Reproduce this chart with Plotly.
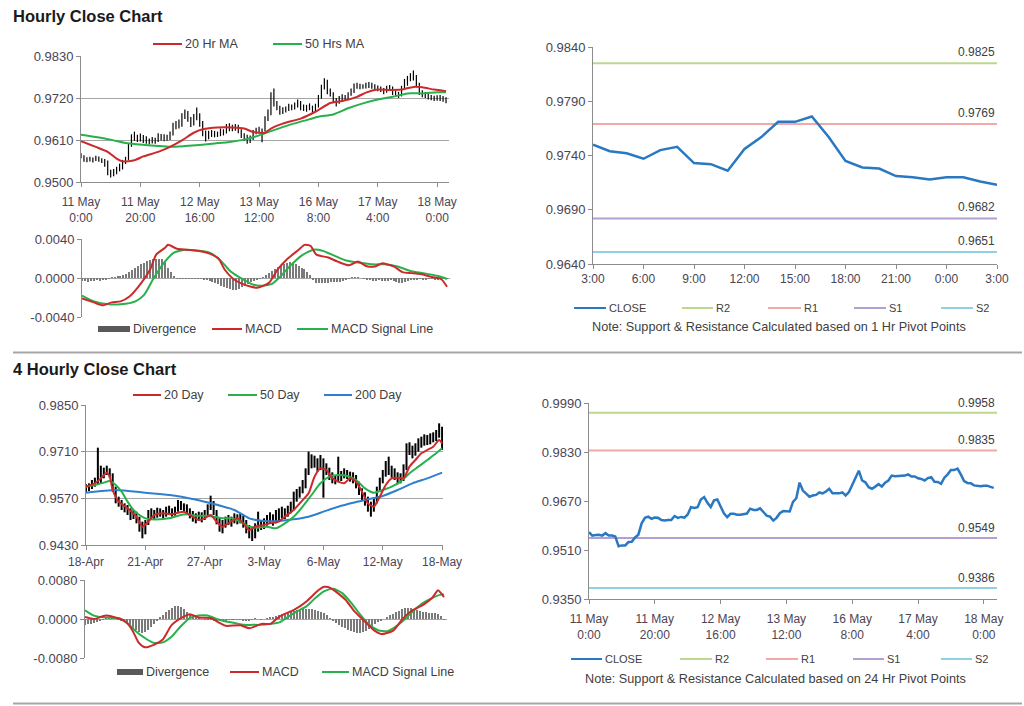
import plotly.graph_objects as go

W, H = 1024, 706
FONT = "Liberation Sans, Arial, sans-serif"
TXT = "#404040"
TICK = "#4b4453"
AX = "#8c8c8c"
GRID = "#a6a6a6"
RED = "#cc2a2a"
GREEN = "#27b04b"
BLUE200 = "#2f7fcf"
CLOSE_BLUE = "#2a78c2"
R2C, R1C, S1C, S2C = "#bcd88e", "#f0a8a8", "#b3a0d2", "#8fd0e2"

# ---------------- hourly data (11 May 0:00 -> 18 May 3:00) ----------------
hourly_ticks = ["11 May<br>0:00", "11 May<br>20:00", "12 May<br>16:00", "13 May<br>12:00",
                "16 May<br>8:00", "17 May<br>4:00", "18 May<br>0:00"]
hourly_close = [
    0.9568, 0.9557, 0.9559, 0.9560, 0.9557, 0.9565, 0.9557, 0.9557, 0.9554, 0.9522,
    0.9525, 0.9525, 0.9536, 0.9537, 0.9551, 0.9560, 0.9597, 0.9615, 0.9619, 0.9612,
    0.9616, 0.9615, 0.9608, 0.9606, 0.9608, 0.9608, 0.9621, 0.9615, 0.9618, 0.9616,
    0.9626, 0.9650, 0.9647, 0.9650, 0.9675, 0.9683, 0.9664, 0.9650, 0.9672, 0.9675,
    0.9652, 0.9630, 0.9617, 0.9628, 0.9628, 0.9625, 0.9625, 0.9628, 0.9629, 0.9645,
    0.9641, 0.9641, 0.9646, 0.9634, 0.9622, 0.9619, 0.9606, 0.9615, 0.9630, 0.9637,
    0.9636, 0.9636, 0.9667, 0.9679, 0.9730, 0.9704, 0.9694, 0.9684, 0.9688, 0.9690,
    0.9698, 0.9695, 0.9701, 0.9710, 0.9695, 0.9695, 0.9695, 0.9698, 0.9688, 0.9699,
    0.9722, 0.9748, 0.9769, 0.9737, 0.9731, 0.9715, 0.9710, 0.9717, 0.9725, 0.9717,
    0.9730, 0.9737, 0.9753, 0.9751, 0.9751, 0.9751, 0.9753, 0.9757, 0.9750,
    0.9750, 0.9744, 0.9742, 0.9737, 0.9745, 0.9748, 0.9733, 0.9732, 0.9726, 0.9746,
    0.9757, 0.9771, 0.9771, 0.9776, 0.9757, 0.9735, 0.9729, 0.9728, 0.9721, 0.9720,
    0.9718, 0.9720, 0.9720, 0.9716, 0.9713]
hourly_high = [
    0.9575, 0.9570, 0.9565, 0.9566, 0.9564, 0.9569, 0.9567, 0.9562, 0.9560, 0.9556,
    0.9532, 0.9534, 0.9540, 0.9548, 0.9558, 0.9566, 0.9602, 0.9625, 0.9632, 0.9624,
    0.9627, 0.9623, 0.9620, 0.9614, 0.9618, 0.9616, 0.9628, 0.9626, 0.9625, 0.9624,
    0.9632, 0.9655, 0.9660, 0.9664, 0.9680, 0.9690, 0.9686, 0.9670, 0.9678, 0.9695,
    0.9680, 0.9660, 0.9635, 0.9634, 0.9636, 0.9634, 0.9632, 0.9640, 0.9638, 0.9652,
    0.9654, 0.9650, 0.9652, 0.9650, 0.9638, 0.9628, 0.9624, 0.9622, 0.9636, 0.9642,
    0.9645, 0.9640, 0.9672, 0.9690, 0.9735, 0.9745, 0.9712, 0.9700, 0.9696, 0.9698,
    0.9705, 0.9703, 0.9708, 0.9716, 0.9712, 0.9703, 0.9702, 0.9706, 0.9700, 0.9705,
    0.9728, 0.9755, 0.9772, 0.9768, 0.9745, 0.9735, 0.9720, 0.9725, 0.9730, 0.9728,
    0.9735, 0.9745, 0.9758, 0.9760, 0.9757, 0.9756, 0.9760, 0.9762, 0.9760,
    0.9756, 0.9753, 0.9750, 0.9746, 0.9752, 0.9754, 0.9750, 0.9740, 0.9736, 0.9752,
    0.9770, 0.9778, 0.9785, 0.9792, 0.9780, 0.9760, 0.9740, 0.9736, 0.9732, 0.9728,
    0.9726, 0.9727, 0.9728, 0.9725, 0.9722]
hourly_low = [
    0.9562, 0.9553, 0.9552, 0.9554, 0.9551, 0.9555, 0.9553, 0.9550, 0.9540, 0.9518,
    0.9512, 0.9515, 0.9520, 0.9528, 0.9533, 0.9547, 0.9557, 0.9592, 0.9608, 0.9605,
    0.9606, 0.9602, 0.9600, 0.9598, 0.9601, 0.9600, 0.9605, 0.9609, 0.9607, 0.9608,
    0.9610, 0.9622, 0.9638, 0.9640, 0.9645, 0.9665, 0.9658, 0.9644, 0.9648, 0.9662,
    0.9645, 0.9620, 0.9606, 0.9612, 0.9618, 0.9617, 0.9618, 0.9620, 0.9622, 0.9627,
    0.9633, 0.9633, 0.9634, 0.9628, 0.9615, 0.9608, 0.9600, 0.9602, 0.9610, 0.9625,
    0.9628, 0.9604, 0.9632, 0.9660, 0.9675, 0.9698, 0.9688, 0.9676, 0.9678, 0.9682,
    0.9686, 0.9688, 0.9690, 0.9695, 0.9688, 0.9686, 0.9684, 0.9688, 0.9680, 0.9683,
    0.9695, 0.9718, 0.9742, 0.9730, 0.9724, 0.9708, 0.9698, 0.9705, 0.9710, 0.9712,
    0.9714, 0.9726, 0.9733, 0.9744, 0.9743, 0.9744, 0.9745, 0.9746, 0.9744,
    0.9741, 0.9738, 0.9736, 0.9730, 0.9734, 0.9739, 0.9728, 0.9726, 0.9720, 0.9724,
    0.9744, 0.9752, 0.9764, 0.9766, 0.9750, 0.9728, 0.9722, 0.9720, 0.9716, 0.9714,
    0.9712, 0.9713, 0.9712, 0.9710, 0.9706]
ma20_hr_idx = [0, 5, 9, 12, 14, 18, 21, 26, 30, 34, 38, 41, 46, 51, 55, 58, 62, 64, 68, 74,
               79, 84, 88, 93, 96, 100, 104, 108, 112, 115, 119, 123]
ma20_hr = [0.9607, 0.9592, 0.9579, 0.9561, 0.9554, 0.9557, 0.9567, 0.9579, 0.9592, 0.9609,
           0.9629, 0.9638, 0.9643, 0.9643, 0.9640, 0.9631, 0.9629, 0.9640, 0.9653, 0.9666,
           0.9684, 0.9707, 0.9712, 0.9723, 0.9734, 0.9742, 0.9741, 0.9742, 0.9749, 0.9748,
           0.9742, 0.9738]
ma50_hr_idx = [0, 5, 10, 15, 20, 25, 30, 35, 40, 45, 50, 55, 60, 65, 70, 75, 80, 85, 90, 95,
               100, 105, 110, 115, 120, 123]
ma50_hr = [0.9624, 0.9618, 0.9611, 0.9602, 0.9598, 0.9595, 0.9592, 0.9594, 0.9597, 0.9601,
           0.9605, 0.9611, 0.9622, 0.9636, 0.9649, 0.9660, 0.9671, 0.9677, 0.9693, 0.9706,
           0.9716, 0.9723, 0.9732, 0.9732, 0.9735, 0.9735]
macd_hr_idx = [0, 4, 7, 10, 13, 16, 20, 23, 25, 28, 29, 32, 35, 39, 43, 46, 48, 51, 54, 57,
               59, 63, 66, 69, 73, 75, 77, 79, 83, 86, 90, 93, 96, 99, 101, 105, 108, 111, 114, 118,
               121, 123]
macd_hr = [-0.0021, -0.0025, -0.0028, -0.0025, -0.0024, -0.0019, -0.0005, 0.0009, 0.0024, 0.0031,
           0.0034, 0.0030, 0.0029, 0.0028, 0.0025, 0.0020, 0.0009, -0.0001, -0.0006, -0.0009,
           -0.0010, -0.0005, 0.0009, 0.0019, 0.0029, 0.0034, 0.0033, 0.0024, 0.0021, 0.0017,
           0.0013, 0.0017, 0.0012, 0.0012, 0.0015, 0.0012, 0.0006, 0.0005, 0.0004, 0.0001,
           -0.0001, -0.0009]
signal_hr_idx = [0, 4, 9, 13, 18, 21, 24, 28, 31, 35, 39, 43, 47, 50, 54, 57, 60, 64, 67, 70,
                 74, 78, 81, 85, 89, 93, 98, 102, 106, 111, 115, 120, 123]
signal_hr = [-0.0018, -0.0024, -0.0027, -0.0027, -0.0024, -0.0017, -0.0001, 0.0017, 0.0026, 0.0029,
             0.0028, 0.0026, 0.0017, 0.0007, -0.0001, -0.0006, -0.0008, -0.0006, 0.0002, 0.0012,
             0.0023, 0.0029, 0.0028, 0.0023, 0.0018, 0.0016, 0.0014, 0.0014, 0.0012, 0.0007,
             0.0005, 0.0002, -0.0001]
divergence_hr = [
    -0.0003, -0.0003, -0.0004, -0.0003, -0.0003, -0.0002, -0.0003, -0.0002, -0.0002, -0.0001,
    0.0001, 0.0001, 0.0002, 0.0002, 0.0003, 0.0004, 0.0006, 0.0008, 0.0010, 0.0012,
    0.0014, 0.0015, 0.0017, 0.0018, 0.0019, 0.0020, 0.0020, 0.0019, 0.0016, 0.0010,
    0.0006, 0.0002, -0.0001, -0.0001, -0.0001, -0.0001, -0.0001, -0.0001, -0.0001, -0.0001,
    -0.0001, -0.0002, -0.0002, -0.0003, -0.0004, -0.0005, -0.0006, -0.0008, -0.0009, -0.0010,
    -0.0011, -0.0012, -0.0012, -0.0011, -0.0009, -0.0008, -0.0006, -0.0004, -0.0003, -0.0002,
    -0.0001, 0.0001, 0.0003, 0.0005, 0.0007, 0.0009, 0.0011, 0.0012, 0.0014, 0.0015,
    0.0016, 0.0015, 0.0014, 0.0012, 0.0010, 0.0009, 0.0006, 0.0003, -0.0002, -0.0005,
    -0.0005, -0.0005, -0.0005, -0.0005, -0.0004, -0.0004, -0.0004, -0.0004, -0.0003, -0.0002,
    -0.0001, 0.0001, 0.0001, 0.0001, 0.0000, -0.0001, -0.0002, -0.0002, -0.0003, -0.0003,
    -0.0002, -0.0003, -0.0003, -0.0003, -0.0002, -0.0003, -0.0004, -0.0005, -0.0005, -0.0004,
    -0.0003, -0.0002, -0.0002, -0.0002, -0.0001, -0.0002, -0.0002, -0.0001, -0.0001, -0.0002,
    -0.0002, -0.0002, -0.0001, -0.0001]

# last 24 hours (17 May 3:00 -> 18 May 3:00)
day_ticks = ["3:00", "6:00", "9:00", "12:00", "15:00", "18:00", "21:00", "0:00", "3:00"]
pivots_1hr = {"R2": 0.9825, "R1": 0.9769, "S1": 0.9682, "S2": 0.9651}
pivots_24hr = {"R2": 0.9958, "R1": 0.9835, "S1": 0.9549, "S2": 0.9386}

# ---------------- 4 hourly data (18 Apr -> 18 May) ----------------
h4_ticks = ["18-Apr", "21-Apr", "27-Apr", "3-May", "6-May", "12-May", "18-May"]
h4_close = [
    0.9600, 0.9605, 0.9612, 0.9620, 0.9625, 0.9645, 0.9650, 0.9655, 0.9640, 0.9600,
    0.9565, 0.9555, 0.9545, 0.9540, 0.9530, 0.9525, 0.9520, 0.9510, 0.9495, 0.9480,
    0.9495, 0.9520, 0.9525, 0.9518, 0.9530, 0.9525, 0.9520, 0.9530, 0.9535, 0.9525,
    0.9535, 0.9550, 0.9545, 0.9540, 0.9535, 0.9525, 0.9515, 0.9510, 0.9520, 0.9510,
    0.9525, 0.9540, 0.9560, 0.9530, 0.9505, 0.9495, 0.9490, 0.9500, 0.9505, 0.9500,
    0.9515, 0.9505, 0.9510, 0.9500, 0.9480, 0.9470, 0.9465, 0.9475, 0.9485, 0.9490,
    0.9495, 0.9505, 0.9510, 0.9500, 0.9520, 0.9525, 0.9530, 0.9520, 0.9535, 0.9540,
    0.9575, 0.9585, 0.9590, 0.9605, 0.9645, 0.9675, 0.9685, 0.9680, 0.9665, 0.9670,
    0.9665, 0.9650, 0.9640, 0.9630, 0.9625, 0.9630, 0.9635, 0.9645, 0.9640, 0.9635,
    0.9630, 0.9615, 0.9595, 0.9580, 0.9570, 0.9550, 0.9535, 0.9560, 0.9595, 0.9620,
    0.9640, 0.9665, 0.9655, 0.9650, 0.9640, 0.9625, 0.9630, 0.9660, 0.9725, 0.9715,
    0.9705, 0.9720, 0.9735, 0.9740, 0.9750, 0.9745, 0.9748, 0.9755, 0.9760, 0.9780,
    0.9725]
h4_high = [
    0.9612, 0.9615, 0.9625, 0.9632, 0.9722, 0.9668, 0.9662, 0.9668, 0.9660, 0.9645,
    0.9605, 0.9575, 0.9565, 0.9555, 0.9550, 0.9540, 0.9535, 0.9530, 0.9515, 0.9500,
    0.9505, 0.9535, 0.9540, 0.9535, 0.9542, 0.9540, 0.9535, 0.9545, 0.9548, 0.9540,
    0.9545, 0.9565, 0.9562, 0.9555, 0.9552, 0.9540, 0.9532, 0.9525, 0.9530, 0.9528,
    0.9535, 0.9552, 0.9578, 0.9562, 0.9535, 0.9512, 0.9505, 0.9515, 0.9520, 0.9515,
    0.9525, 0.9522, 0.9525, 0.9518, 0.9505, 0.9490, 0.9485, 0.9495, 0.9530, 0.9505,
    0.9510, 0.9520, 0.9528, 0.9522, 0.9535, 0.9540, 0.9545, 0.9540, 0.9548, 0.9560,
    0.9590, 0.9598, 0.9605, 0.9625, 0.9660, 0.9710, 0.9702, 0.9698, 0.9690, 0.9700,
    0.9690, 0.9675, 0.9662, 0.9648, 0.9640, 0.9695, 0.9652, 0.9660, 0.9655, 0.9650,
    0.9648, 0.9640, 0.9620, 0.9600, 0.9588, 0.9575, 0.9560, 0.9572, 0.9605, 0.9632,
    0.9655, 0.9682, 0.9695, 0.9668, 0.9660, 0.9648, 0.9645, 0.9672, 0.9735, 0.9738,
    0.9728, 0.9735, 0.9750, 0.9755, 0.9762, 0.9760, 0.9765, 0.9768, 0.9775, 0.9795,
    0.9785]
h4_low = [
    0.9590, 0.9592, 0.9598, 0.9605, 0.9612, 0.9615, 0.9630, 0.9640, 0.9632, 0.9590,
    0.9555, 0.9545, 0.9535, 0.9528, 0.9520, 0.9505, 0.9508, 0.9495, 0.9470, 0.9450,
    0.9462, 0.9490, 0.9510, 0.9508, 0.9512, 0.9515, 0.9508, 0.9515, 0.9520, 0.9515,
    0.9518, 0.9530, 0.9535, 0.9528, 0.9522, 0.9510, 0.9500, 0.9495, 0.9502, 0.9498,
    0.9505, 0.9520, 0.9535, 0.9520, 0.9492, 0.9470, 0.9465, 0.9482, 0.9490, 0.9485,
    0.9495, 0.9492, 0.9495, 0.9482, 0.9465, 0.9450, 0.9442, 0.9450, 0.9470, 0.9475,
    0.9478, 0.9488, 0.9495, 0.9488, 0.9495, 0.9505, 0.9510, 0.9508, 0.9515, 0.9525,
    0.9535, 0.9560, 0.9572, 0.9585, 0.9600, 0.9640, 0.9660, 0.9662, 0.9650, 0.9655,
    0.9572, 0.9640, 0.9625, 0.9615, 0.9612, 0.9618, 0.9622, 0.9630, 0.9628, 0.9620,
    0.9615, 0.9600, 0.9580, 0.9562, 0.9548, 0.9530, 0.9515, 0.9530, 0.9555, 0.9590,
    0.9615, 0.9635, 0.9640, 0.9632, 0.9625, 0.9612, 0.9615, 0.9622, 0.9655, 0.9700,
    0.9690, 0.9698, 0.9710, 0.9722, 0.9728, 0.9730, 0.9732, 0.9738, 0.9742, 0.9752,
    0.9715]
ma20_4h_idx = [0, 3, 5, 7, 8, 9, 11, 14, 17, 19, 21, 23, 26, 29, 31, 33, 35, 38, 40, 42,
               44, 46, 48, 51, 53, 55, 57, 60, 62, 65, 67, 70, 72, 75, 77, 79, 81, 83, 85, 87,
               89, 91, 93, 95, 97, 99, 101, 103, 105, 107, 109, 111, 113, 115, 117, 119, 120]
ma20_4h = [0.9605, 0.9615, 0.9630, 0.9647, 0.9635, 0.9595, 0.9560, 0.9540, 0.9515, 0.9485,
           0.9500, 0.9520, 0.9525, 0.9522, 0.9527, 0.9530, 0.9520, 0.9505, 0.9510, 0.9520,
           0.9500, 0.9485, 0.9495, 0.9510, 0.9495, 0.9475, 0.9485, 0.9490, 0.9495, 0.9500,
           0.9515, 0.9535, 0.9555, 0.9585, 0.9635, 0.9660, 0.9655, 0.9630, 0.9620, 0.9615,
           0.9630, 0.9620, 0.9590, 0.9555, 0.9545, 0.9575, 0.9610, 0.9630, 0.9632, 0.9630,
           0.9665, 0.9685, 0.9705, 0.9715, 0.9725, 0.9745, 0.9735]
ma50_4h_idx = [0, 3, 6, 8, 10, 12, 14, 16, 18, 20, 22, 25, 28, 31, 34, 37, 40, 43, 46, 49,
               52, 55, 58, 61, 64, 67, 70, 73, 76, 79, 82, 85, 88, 91, 94, 97, 100, 103, 106, 109,
               112, 115, 118, 120]
ma50_4h = [0.9605, 0.9610, 0.9617, 0.9622, 0.9610, 0.9590, 0.9560, 0.9535, 0.9520, 0.9510,
           0.9507, 0.9507, 0.9510, 0.9518, 0.9522, 0.9518, 0.9518, 0.9515, 0.9510, 0.9510,
           0.9500, 0.9485, 0.9482, 0.9485, 0.9480, 0.9495, 0.9515, 0.9545, 0.9580, 0.9615,
           0.9635, 0.9640, 0.9637, 0.9625, 0.9600, 0.9587, 0.9595, 0.9605, 0.9620, 0.9645,
           0.9665, 0.9685, 0.9705, 0.9720]
ma200_4h_idx = [0, 10, 20, 30, 40, 50, 55, 60, 65, 70, 75, 80, 85, 90, 95, 100, 105, 110, 115, 120]
ma200_4h = [0.9587, 0.9595, 0.9587, 0.9578, 0.9560, 0.9535, 0.9510, 0.9502, 0.9502, 0.9507,
            0.9515, 0.9530, 0.9545, 0.9557, 0.9567, 0.9577, 0.9595, 0.9615, 0.9630, 0.9647]
macd_4h_idx = [0, 3, 7, 12, 14, 16, 18, 20, 23, 26, 29, 33, 35, 38, 42, 45, 47, 52, 55, 59,
               62, 65, 70, 74, 78, 80, 82, 87, 90, 94, 97, 99, 103, 106, 109, 113, 116, 118, 119, 120]
macd_4h = [0.0004, 0.0000, 0.0007, 0.0000, -0.0008, -0.0025, -0.0049, -0.0058, -0.0053, -0.0042,
           -0.0012, 0.0005, 0.0010, 0.0003, 0.0002, -0.0008, -0.0014, -0.0013, -0.0019, -0.0010,
           -0.0010, 0.0005, 0.0019, 0.0036, 0.0059, 0.0066, 0.0064, 0.0040, 0.0016, -0.0008,
           -0.0025, -0.0031, -0.0024, -0.0001, 0.0016, 0.0029, 0.0043, 0.0059, 0.0053, 0.0045]
signal_4h_idx = [0, 3, 7, 11, 14, 17, 20, 23, 26, 29, 32, 35, 38, 41, 44, 47, 50, 53, 56, 59,
                 62, 65, 68, 71, 74, 77, 80, 83, 86, 89, 92, 95, 98, 101, 104, 107, 110, 113, 116, 119,
                 120]
signal_4h = [0.0018, 0.0007, 0.0003, 0.0002, -0.0008, -0.0025, -0.0039, -0.0049, -0.0048, -0.0036,
             -0.0015, 0.0002, 0.0007, 0.0007, 0.0000, -0.0005, -0.0008, -0.0012, -0.0012, -0.0012,
             -0.0010, -0.0007, 0.0005, 0.0016, 0.0026, 0.0043, 0.0057, 0.0062, 0.0053, 0.0033,
             0.0009, -0.0012, -0.0023, -0.0025, -0.0015, 0.0000, 0.0018, 0.0033, 0.0043, 0.0050,
             0.0050]
divergence_4h = [
    -0.0012, -0.0011, -0.0010, -0.0008, -0.0006, -0.0004, -0.0002, 0.0001, 0.0001, 0.0001,
    0.0000, -0.0001, -0.0003, -0.0006, -0.0009, -0.0013, -0.0018, -0.0023, -0.0026, -0.0028,
    -0.0027, -0.0022, -0.0016, -0.0010, -0.0004, 0.0003, 0.0008, 0.0014, 0.0019, 0.0023,
    0.0026, 0.0027, 0.0025, 0.0020, 0.0015, 0.0010, 0.0006, 0.0003, 0.0001, 0.0000,
    -0.0001, -0.0002, -0.0002, -0.0003, -0.0003, -0.0004, -0.0003, -0.0003, -0.0002, -0.0002,
    -0.0001, -0.0002, -0.0002, -0.0003, -0.0004, -0.0003, -0.0001, 0.0001, 0.0000, -0.0001,
    0.0000, 0.0002, 0.0003, 0.0005, 0.0007, 0.0009, 0.0011, 0.0013, 0.0015, 0.0016,
    0.0017, 0.0018, 0.0019, 0.0020, 0.0020, 0.0021, 0.0020, 0.0019, 0.0017, 0.0015,
    0.0012, 0.0008, 0.0002, -0.0004, -0.0009, -0.0013, -0.0016, -0.0019, -0.0022, -0.0025,
    -0.0027, -0.0028, -0.0028, -0.0027, -0.0024, -0.0020, -0.0016, -0.0011, -0.0007, -0.0004,
    0.0000, 0.0004, 0.0008, 0.0011, 0.0014, 0.0017, 0.0020, 0.0022, 0.0023, 0.0023,
    0.0021, 0.0018, 0.0016, 0.0015, 0.0014, 0.0013, 0.0012, 0.0012, 0.0011, 0.0006,
    -0.0002]

# ---------------- helpers ----------------
def hl_segments(xs, lows, highs):
    X, Y = [], []
    for x, lo, hi in zip(xs, lows, highs):
        X += [x, x, None]
        Y += [lo, hi, None]
    return X, Y

def dom_x(a, b):
    return [a / W, b / W]

def dom_y(top, bottom):
    return [1 - bottom / H, 1 - top / H]

fig = go.Figure()

n_hr = len(hourly_close)
n_4h = len(h4_close)
hr_idx = list(range(n_hr))
h4_idx = list(range(n_4h))

# --- panel 1: hourly bars + MAs
hx, hy = hl_segments(hr_idx, hourly_low, hourly_high)
fig.add_trace(go.Scatter(x=hx, y=hy, mode="lines", line=dict(color="black", width=1.2),
                         xaxis="x", yaxis="y", hoverinfo="skip"))
fig.add_trace(go.Scatter(x=ma50_hr_idx, y=ma50_hr, mode="lines", line=dict(color=GREEN, width=2, shape="spline", smoothing=0.6),
                         xaxis="x", yaxis="y", name="50 Hrs MA"))
fig.add_trace(go.Scatter(x=ma20_hr_idx, y=ma20_hr, mode="lines", line=dict(color=RED, width=2, shape="spline", smoothing=0.6),
                         xaxis="x", yaxis="y", name="20 Hr MA"))

# --- panel 2: hourly MACD
fig.add_trace(go.Bar(x=hr_idx, y=divergence_hr, width=0.4, marker=dict(color="#7a7a7a", line=dict(width=0)),
                     xaxis="x2", yaxis="y2", name="Divergence"))
fig.add_trace(go.Scatter(x=signal_hr_idx, y=signal_hr, mode="lines", line=dict(color=GREEN, width=2, shape="spline", smoothing=0.6),
                         xaxis="x2", yaxis="y2", name="MACD Signal Line"))
fig.add_trace(go.Scatter(x=macd_hr_idx, y=macd_hr, mode="lines", line=dict(color=RED, width=2, shape="spline", smoothing=0.6),
                         xaxis="x2", yaxis="y2", name="MACD"))

# --- panel 3: last 24h close with 1 Hr pivots
day_close = hourly_close[n_hr - 25:]
day_x = list(range(25))
for key, col in (("R2", R2C), ("R1", R1C), ("S1", S1C), ("S2", S2C)):
    v = pivots_1hr[key]
    fig.add_trace(go.Scatter(x=[0, 24], y=[v, v], mode="lines", line=dict(color=col, width=2),
                             xaxis="x3", yaxis="y3", name=key))
fig.add_trace(go.Scatter(x=day_x, y=day_close, mode="lines", line=dict(color=CLOSE_BLUE, width=2.5),
                         xaxis="x3", yaxis="y3", name="CLOSE"))

# --- panel 4: 4-hourly bars + MAs
fx, fy = hl_segments(h4_idx, h4_low, h4_high)
fig.add_trace(go.Scatter(x=fx, y=fy, mode="lines", line=dict(color="black", width=2),
                         xaxis="x4", yaxis="y4", hoverinfo="skip"))
fig.add_trace(go.Scatter(x=ma200_4h_idx, y=ma200_4h, mode="lines", line=dict(color=BLUE200, width=2, shape="spline", smoothing=0.6),
                         xaxis="x4", yaxis="y4", name="200 Day"))
fig.add_trace(go.Scatter(x=ma50_4h_idx, y=ma50_4h, mode="lines", line=dict(color=GREEN, width=2, shape="spline", smoothing=0.6),
                         xaxis="x4", yaxis="y4", name="50 Day"))
fig.add_trace(go.Scatter(x=ma20_4h_idx, y=ma20_4h, mode="lines", line=dict(color=RED, width=2, shape="spline", smoothing=0.6),
                         xaxis="x4", yaxis="y4", name="20 Day"))

# --- panel 5: 4-hourly MACD
fig.add_trace(go.Bar(x=h4_idx, y=divergence_4h, width=0.4, marker=dict(color="#7a7a7a", line=dict(width=0)),
                     xaxis="x5", yaxis="y5", name="Divergence"))
fig.add_trace(go.Scatter(x=signal_4h_idx, y=signal_4h, mode="lines", line=dict(color=GREEN, width=2, shape="spline", smoothing=0.6),
                         xaxis="x5", yaxis="y5", name="MACD Signal Line"))
fig.add_trace(go.Scatter(x=macd_4h_idx, y=macd_4h, mode="lines", line=dict(color=RED, width=2, shape="spline", smoothing=0.6),
                         xaxis="x5", yaxis="y5", name="MACD"))

# --- panel 6: hourly close with 24 Hr pivots
X6_END = 124
for key, col in (("R2", R2C), ("R1", R1C), ("S1", S1C), ("S2", S2C)):
    v = pivots_24hr[key]
    fig.add_trace(go.Scatter(x=[0, X6_END], y=[v, v], mode="lines", line=dict(color=col, width=2),
                             xaxis="x6", yaxis="y6", name=key))
fig.add_trace(go.Scatter(x=hr_idx, y=hourly_close, mode="lines", line=dict(color=CLOSE_BLUE, width=2.5),
                         xaxis="x6", yaxis="y6", name="CLOSE"))

# ---------------- axes ----------------
xtickfont = dict(family=FONT, size=12, color=TICK)
ytickfont = dict(family=FONT, size=13, color=TICK)
EPS = 1e-7

def xaxis(domain, rng, anchor, tickvals=None, ticktext=None, labels=True, standoff=0):
    d = dict(domain=domain, range=rng, anchor=anchor, showgrid=False, zeroline=False,
             fixedrange=True, tickfont=xtickfont, automargin=False)
    if labels:
        d.update(tickmode="array", tickvals=tickvals, ticktext=ticktext, ticks="outside",
                 ticklen=4, tickcolor=AX, showline=True, linecolor=AX, linewidth=1,
                 ticklabelstandoff=standoff)
    else:
        d.update(showticklabels=False, ticks="", showline=False)
    return d

def yaxis(domain, rng, anchor, tickvals, ticktext, grid):
    return dict(domain=domain, range=[rng[0] - EPS, rng[1] + EPS], anchor=anchor,
                tickmode="array", tickvals=tickvals, ticktext=ticktext,
                ticks="outside", ticklen=4, tickcolor=AX, showline=True, linecolor=AX,
                linewidth=1, showgrid=grid, gridcolor=GRID, gridwidth=1, zeroline=False,
                fixedrange=True, tickfont=ytickfont, automargin=False)

hr_tickvals = [0, 20, 40, 60, 80, 100, 120]

fig.update_layout(
    xaxis=xaxis(dom_x(81, 449), [0, 124], "y", hr_tickvals, hourly_ticks, standoff=5),
    yaxis=yaxis(dom_y(56, 182), [0.9500, 0.9830], "x",
                [0.9500, 0.9610, 0.9720, 0.9830], ["0.9500", "0.9610", "0.9720", "0.9830"], True),
    xaxis2=xaxis(dom_x(82, 450), [0, 124], "y2", labels=False),
    yaxis2=yaxis(dom_y(239, 317), [-0.004, 0.004], "x2",
                 [-0.004, 0.0, 0.004], ["-0.0040", "0.0000", "0.0040"], True),
    xaxis3=xaxis(dom_x(593, 997), [0, 24], "y3", list(range(0, 25, 3)), day_ticks),
    yaxis3=yaxis(dom_y(47, 264), [0.9640, 0.9840], "x3",
                 [0.9640, 0.9690, 0.9740, 0.9790, 0.9840],
                 ["0.9640", "0.9690", "0.9740", "0.9790", "0.9840"], False),
    xaxis4=xaxis(dom_x(86, 443), [0, 120.3], "y4", hr_tickvals, h4_ticks, standoff=2),
    yaxis4=yaxis(dom_y(405, 545), [0.9430, 0.9850], "x4",
                 [0.9430, 0.9570, 0.9710, 0.9850], ["0.9430", "0.9570", "0.9710", "0.9850"], True),
    xaxis5=xaxis(dom_x(85, 447), [0, 121], "y5", labels=False),
    yaxis5=yaxis(dom_y(580, 658), [-0.008, 0.008], "x5",
                 [-0.008, 0.0, 0.008], ["-0.0080", "0.0000", "0.0080"], True),
    xaxis6=xaxis(dom_x(589, 997), [0, X6_END], "y6", hr_tickvals, hourly_ticks, standoff=5),
    yaxis6=yaxis(dom_y(403, 599), [0.9350, 0.9990], "x6",
                 [0.9350, 0.9510, 0.9670, 0.9830, 0.9990],
                 ["0.9350", "0.9510", "0.9670", "0.9830", "0.9990"], False),
)

# ---------------- pivot labels ----------------
for key in ("R2", "R1", "S1", "S2"):
    v = pivots_1hr[key]
    fig.add_annotation(x=24, y=v, xref="x3", yref="y3", text=f"{v:.4f}", showarrow=False,
                       xanchor="right", yanchor="bottom", yshift=2,
                       font=dict(family=FONT, size=12, color=TXT))
    v = pivots_24hr[key]
    fig.add_annotation(x=X6_END, y=v, xref="x6", yref="y6", text=f"{v:.4f}", showarrow=False,
                       xanchor="right", yanchor="bottom", yshift=1,
                       font=dict(family=FONT, size=12, color=TXT))

# ---------------- decorations: titles, separators, legends ----------------
def ptext(x, y, text, size=12.5, color=TXT, bold=False, anchor="left"):
    fig.add_annotation(xref="paper", yref="paper", x=x / W, y=1 - y / H,
                       text=f"<b>{text}</b>" if bold else text, showarrow=False,
                       xanchor=anchor, yanchor="middle",
                       font=dict(family=FONT, size=size, color=color))

def pline(x0, x1, y, color, width=2):
    fig.add_shape(type="line", xref="paper", yref="paper", x0=x0 / W, x1=x1 / W,
                  y0=1 - y / H, y1=1 - y / H, line=dict(color=color, width=width))

def prect(x0, x1, y, h, color):
    fig.add_shape(type="rect", xref="paper", yref="paper", x0=x0 / W, x1=x1 / W,
                  y0=1 - (y + h / 2) / H, y1=1 - (y - h / 2) / H,
                  line=dict(width=0), fillcolor=color)

ptext(11, 16, "Hourly Close Chart", size=16.5, color="#1a1a1a", bold=True)
ptext(11, 369, "4 Hourly Close Chart", size=16.5, color="#1a1a1a", bold=True)
pline(13, 1022, 352.5, "#a6a6a6", 2)
pline(13, 1022, 703.5, "#a6a6a6", 2)

# top-left legend
pline(153, 182, 44, RED); ptext(183, 44, "20 Hr MA")
pline(273, 302, 44, GREEN); ptext(303, 44, "50 Hrs MA")
# top-left MACD legend
prect(98, 130, 329, 6, "#595959"); ptext(131, 329, "Divergence")
pline(212, 242, 329, RED); ptext(243, 329, "MACD")
pline(297, 328, 329, GREEN); ptext(329, 329, "MACD Signal Line")
# top-right legend + note
pline(574, 606, 308, CLOSE_BLUE); ptext(607, 308, "CLOSE", size=11)
pline(682, 713, 308, R2C); ptext(714, 308, "R2", size=11)
pline(768, 801, 308, R1C); ptext(802, 308, "R1", size=11)
pline(854, 886, 308, S1C); ptext(887, 308, "S1", size=11)
pline(941, 973, 308, S2C); ptext(974, 308, "S2", size=11)
ptext(779, 327, "Note: Support &amp; Resistance Calculated based on 1 Hr Pivot Points", size=12.7, anchor="center")

# bottom-left legend
pline(133, 161, 395, RED); ptext(162, 395, "20 Day")
pline(228, 257, 395, GREEN); ptext(258, 395, "50 Day")
pline(324, 352, 395, BLUE200); ptext(353, 395, "200 Day")
# bottom-left MACD legend
prect(117, 143, 672, 6, "#595959"); ptext(144, 672, "Divergence")
pline(230, 259, 672, RED); ptext(260, 672, "MACD")
pline(322, 349, 672, GREEN); ptext(350, 672, "MACD Signal Line")
# bottom-right legend + note
pline(571, 602, 659, CLOSE_BLUE); ptext(603, 659, "CLOSE", size=11)
pline(680, 712, 659, R2C); ptext(713, 659, "R2", size=11)
pline(766, 798, 659, R1C); ptext(799, 659, "R1", size=11)
pline(853, 884, 659, S1C); ptext(885, 659, "S1", size=11)
pline(941, 972, 659, S2C); ptext(973, 659, "S2", size=11)
ptext(775, 679, "Note: Support &amp; Resistance Calculated based on 24 Hr Pivot Points", size=12.7, anchor="center")

fig.update_layout(
    width=W, height=H, margin=dict(l=0, r=0, t=0, b=0, pad=0, autoexpand=False), showlegend=False,
    plot_bgcolor="white", paper_bgcolor="white", bargap=0,
    font=dict(family=FONT, size=12, color=TXT),
)

fig.write_html("out.html", config={"displayModeBar": False},
               post_script="document.body.style.margin='0';document.body.style.overflow='hidden';")
